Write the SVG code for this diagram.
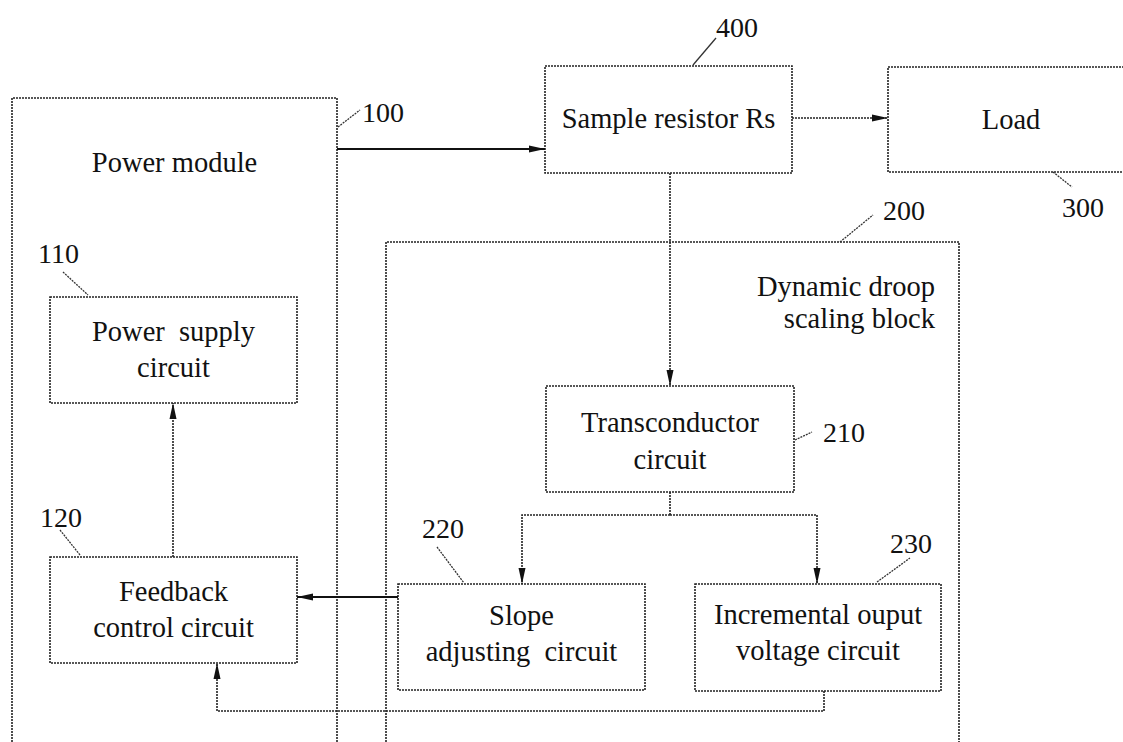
<svg xmlns="http://www.w3.org/2000/svg" width="1123" height="742" viewBox="0 0 1123 742">
<style>
  .box { fill: none; stroke: #222; stroke-width: 1.6; stroke-dasharray: 2 1; }
  .wire { fill: none; stroke: #222; stroke-width: 1.6; stroke-dasharray: 2 1; }
  .solid { fill: none; stroke: #111; stroke-width: 2.2; }
  .lead { fill: none; stroke: #333; stroke-width: 1.3; stroke-dasharray: 2 1; }
  .t { font-family: "Liberation Serif", "Times New Roman", serif; font-size: 28.5px; fill: #111; text-anchor: middle; white-space: pre; }
  .n { font-family: "Liberation Serif", "Times New Roman", serif; font-size: 28px; fill: #111; }
</style>
<defs>
  <marker id="arr" viewBox="0 0 16 8" markerWidth="16" markerHeight="8" refX="16" refY="4" orient="auto" markerUnits="userSpaceOnUse">
    <path d="M0,0.5 L16,4 L0,7.5 z" fill="#111"/>
  </marker>
</defs>
<rect width="1123" height="742" fill="#fff"/>

<g id="power-module">
  <path class="box" d="M12,742 V98 H337 V742"/>
  <text class="t" x="174.5" y="172">Power module</text>
  <path class="lead" d="M338,127 L360,110"/>
  <text class="n" x="362" y="122" font-size="26">100</text>
</g>

<g id="sample-resistor">
  <rect class="box" x="545" y="66" width="247" height="107"/>
  <text class="t" x="668.5" y="128">Sample resistor Rs</text>
  <path class="lead" d="M693,65 L716,38" style="stroke-dasharray:none"/>
  <text class="n" x="716" y="37" font-size="33">400</text>
</g>

<g id="load">
  <path class="box" d="M1124,67 H888 V172 H1124"/>
  <text class="t" x="1011" y="129">Load</text>
  <path class="lead" d="M1053,172 L1072,187"/>
  <text class="n" x="1062" y="217" font-size="29">300</text>
</g>

<g id="dynamic-droop">
  <path class="box" d="M386,742 V242 H959 V742"/>
  <text class="t" x="935" y="296" style="text-anchor:end">Dynamic droop</text>
  <text class="t" x="935" y="328" style="text-anchor:end">scaling block</text>
  <path class="lead" d="M840,242 L873,215"/>
  <text class="n" x="883" y="220" font-size="29">200</text>
</g>

<g id="power-supply">
  <rect class="box" x="50" y="297" width="247" height="106"/>
  <text class="t" x="173.5" y="341" xml:space="preserve">Power  supply</text>
  <text class="t" x="173.5" y="377">circuit</text>
  <path class="lead" d="M63,272 L88,295"/>
  <text class="n" x="38" y="263" font-size="27">110</text>
</g>

<g id="feedback">
  <rect class="box" x="50" y="557" width="247" height="106"/>
  <text class="t" x="173.5" y="601">Feedback</text>
  <text class="t" x="173.5" y="637">control circuit</text>
  <path class="lead" d="M60,530 L80,555"/>
  <text class="n" x="40" y="527" font-size="27">120</text>
</g>

<g id="transconductor">
  <rect class="box" x="546" y="386" width="248" height="106"/>
  <text class="t" x="670" y="432">Transconductor</text>
  <text class="t" x="670" y="469">circuit</text>
  <path class="lead" d="M795,440 L812,432"/>
  <text class="n" x="823" y="442" font-size="26">210</text>
</g>

<g id="slope">
  <rect class="box" x="398" y="584" width="247" height="106"/>
  <text class="t" x="521.5" y="625">Slope</text>
  <text class="t" x="521.5" y="661" xml:space="preserve">adjusting  circuit</text>
  <path class="lead" d="M437,547 L464,583"/>
  <text class="n" x="422" y="538" font-size="27">220</text>
</g>

<g id="incremental">
  <rect class="box" x="695" y="584" width="246" height="107"/>
  <text class="t" x="818" y="624">Incremental ouput</text>
  <text class="t" x="818" y="660">voltage circuit</text>
  <path class="lead" d="M877,582 L910,558"/>
  <text class="n" x="890" y="553" font-size="27">230</text>
</g>

<g id="connectors">
  <path class="solid" d="M337,149 H545" marker-end="url(#arr)"/>
  <path class="wire" d="M792,118 H888" marker-end="url(#arr)"/>
  <path class="wire" d="M670,173 V386" marker-end="url(#arr)"/>
  <path class="wire" d="M670,492 V515"/>
  <path class="wire" d="M670,515 H522 V584" marker-end="url(#arr)"/>
  <path class="wire" d="M670,515 H817 V584" marker-end="url(#arr)"/>
  <path class="solid" d="M398,597 H297" marker-end="url(#arr)"/>
  <path class="wire" d="M824,691 V711 H217 V663" marker-end="url(#arr)"/>
  <path class="wire" d="M173,557 V403" marker-end="url(#arr)"/>
</g>
</svg>
